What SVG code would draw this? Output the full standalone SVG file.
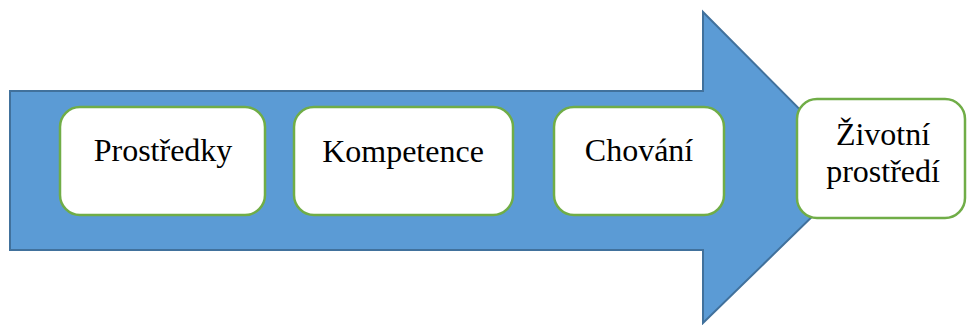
<svg xmlns="http://www.w3.org/2000/svg" width="967" height="325" viewBox="0 0 967 325">
  <style>
    .box { fill: #ffffff; stroke: #70ad47; stroke-width: 2.5; }
    .lbl { font-family: "Liberation Serif", "Times New Roman", serif; font-size: 32px; fill: #000000; text-anchor: middle; }
  </style>
  <rect width="967" height="325" fill="#ffffff"/>
  <!-- big block arrow in the background -->
  <g id="arrow">
    <path d="M10,91 L703,91 L703,12 L860,170 L703,323 L703,250 L10,250 Z" fill="#5b9bd5" stroke="#41719c" stroke-width="2" stroke-linejoin="miter"/>
  </g>
  <g id="connectors"></g>
  <g id="prostredky">
    <rect class="box" x="60" y="107" width="205" height="108" rx="20"/>
    <text class="lbl" x="163" y="161">Prostředky</text>
  </g>
  <g id="kompetence">
    <rect class="box" x="294" y="107" width="219" height="108" rx="20"/>
    <text class="lbl" x="403" y="162">Kompetence</text>
  </g>
  <g id="chovani">
    <rect class="box" x="554" y="107" width="170" height="108" rx="20"/>
    <text class="lbl" x="639" y="161">Chování</text>
  </g>
  <g id="zivotni-prostredi">
    <rect class="box" x="797" y="99" width="168" height="119" rx="20"/>
    <text class="lbl" x="883" y="145">Životní</text>
    <text class="lbl" x="883" y="182">prostředí</text>
  </g>
</svg>
